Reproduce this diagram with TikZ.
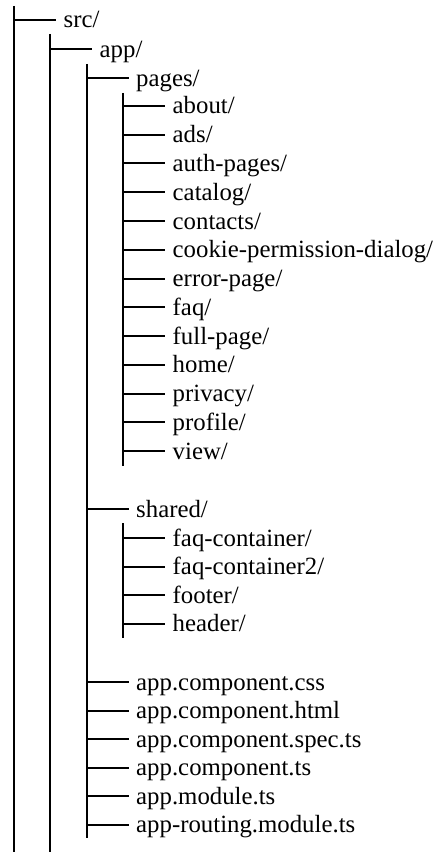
\documentclass[tikz,border=0pt]{standalone}
\usepackage{fontspec}
\setmainfont{Liberation Serif}
\newcommand\treeitem[4]{%
  \coordinate (#1-j) at (#2,#3);
  \node[item] (#1) at (#2+42,#3) {#4};
  \draw[branch] (#1-j) -- (#1.west);
}
\begin{document}
\begin{tikzpicture}[x=0.75pt,y=-0.75pt,
  item/.style={anchor=west, inner xsep=5.6pt, inner ysep=0pt, text height=12pt, text depth=0pt,
    font=\fontsize{18.6pt}{20pt}\selectfont, text=black},
  branch/.style={draw=black, line width=1.5pt},
  trunk/.style={draw=black, line width=1.5pt}]
\useasboundingbox[fill=white] (0,0) rectangle (435,852);
% vertical lines
\coordinate (l1t) at (14,6);    \coordinate (l1b) at (14,852);
\coordinate (l2t) at (50,34);   \coordinate (l2b) at (50,852);
\coordinate (l3t) at (86.5,64); \coordinate (l3b) at (86.5,838);
\coordinate (l4t) at (123,93);  \coordinate (l4b) at (123,466);
\coordinate (l5t) at (123,523); \coordinate (l5b) at (123,638);
\draw[trunk] (l1t) -- (l1b);
\draw[trunk] (l2t) -- (l2b);
\draw[trunk] (l3t) -- (l3b);
\draw[trunk] (l4t) -- (l4b);
\draw[trunk] (l5t) -- (l5b);
% entries
\treeitem{src}{14}{20}{src/}
\treeitem{app}{50}{49.5}{app/}
\treeitem{pages}{86.5}{78.5}{pages/}
\treeitem{about}{123}{106}{about/}
\treeitem{ads}{123}{134.75}{ads/}
\treeitem{auth}{123}{163.5}{auth-pages/}
\treeitem{catalog}{123}{192.25}{catalog/}
\treeitem{contacts}{123}{221}{contacts/}
\treeitem{cookie}{123}{249.75}{cookie-permission-dialog/}
\treeitem{error}{123}{278.5}{error-page/}
\treeitem{faq}{123}{307.25}{faq/}
\treeitem{full}{123}{336}{full-page/}
\treeitem{home}{123}{364.75}{home/}
\treeitem{privacy}{123}{393.5}{privacy/}
\treeitem{profile}{123}{422.25}{profile/}
\treeitem{view}{123}{451}{view/}
\treeitem{shared}{86.5}{509}{shared/}
\treeitem{fc}{123}{538}{faq-container/}
\treeitem{fctwo}{123}{566.5}{faq-container2/}
\treeitem{footer}{123}{595}{footer/}
\treeitem{header}{123}{623.5}{header/}
\treeitem{css}{86.5}{682}{app.component.css}
\treeitem{html}{86.5}{710.5}{app.component.html}
\treeitem{spec}{86.5}{739}{app.component.spec.ts}
\treeitem{ts}{86.5}{767.5}{app.component.ts}
\treeitem{module}{86.5}{796}{app.module.ts}
\treeitem{routing}{86.5}{824.5}{app-routing.module.ts}
\end{tikzpicture}
\end{document}
